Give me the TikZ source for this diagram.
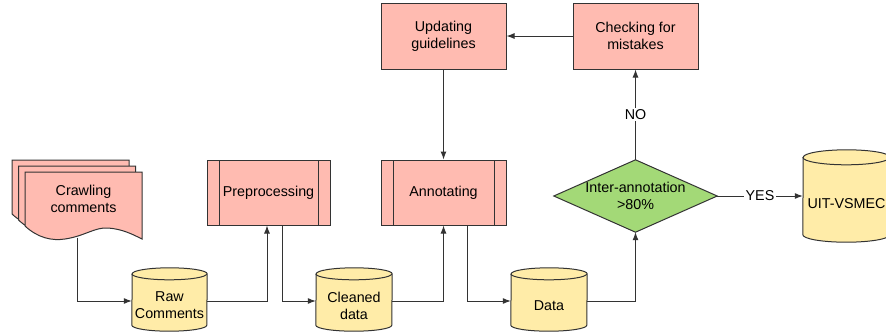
\documentclass[tikz,border=0pt]{standalone}
\usepackage{fontspec}
\setmainfont{Liberation Sans}
\usetikzlibrary{arrows.meta,backgrounds,calc}
\definecolor{pinkc}{HTML}{FFBBB1}
\definecolor{yelc}{HTML}{FFECA8}
\definecolor{grnc}{HTML}{A3D977}
\definecolor{linec}{HTML}{333333}
\newcommand\mycyl[3]{%
  \filldraw[cylshape] ([yshift=#3]#1.south west) arc[start angle=180,end angle=360,x radius=#2,y radius=#3]
    -- ([yshift=#3]#1.north east) arc[start angle=0,end angle=180,x radius=#2,y radius=#3] -- cycle;
  \draw[cylshape,fill=none] ([yshift=#3]#1.north west) arc[start angle=180,end angle=360,x radius=#2,y radius=#3];}
\begin{document}
\begin{tikzpicture}[x=1pt,y=-1pt,
  every node/.style={font=\fontsize{14.3}{17}\selectfont, text=black},
  procbox/.style={rectangle, draw=linec, line width=1pt, fill=pinkc, minimum width=125pt, minimum height=66pt, inner sep=0pt, align=center},
  subproc/.style={procbox, path picture={
      \draw[linec, line width=1pt] ([xshift=12pt]path picture bounding box.north west) -- ([xshift=12pt]path picture bounding box.south west);
      \draw[linec, line width=1pt] ([xshift=-12pt]path picture bounding box.north east) -- ([xshift=-12pt]path picture bounding box.south east);}},
  textbox/.style={rectangle, inner sep=0pt, align=center},
  cylshape/.style={draw=linec, line width=1pt, fill=yelc},
  docshape/.style={draw=linec, line width=1pt, fill=pinkc},
  arr/.style={draw=linec, line width=1pt, -{Latex[length=8pt,width=6pt]}},
  lbl/.style={fill=white, inner sep=1.5pt}]
\useasboundingbox (0,0) rectangle (886,333);

% nodes
\node[textbox, minimum width=117pt, minimum height=54pt] (crawl) at (83.5,199) {Crawling\\comments};
\node[subproc, minimum width=123pt, minimum height=65pt] (pre) at (268.5,192.5) {Preprocessing};
\node[subproc, minimum height=65pt] (ann) at (443.5,192.5) {Annotating};
\node[procbox] (upd) at (443.5,36) {Updating\\guidelines};
\node[procbox] (chk) at (635.5,36) {Checking for\\mistakes};
\node[textbox, minimum width=163pt, minimum height=72pt] (dec) at (635.5,196) {Inter-annotation\\>80\%};
\node[textbox, minimum width=75pt, minimum height=51pt] (raw) at (169.5,305.5) {Raw\\Comments};
\node[textbox, minimum width=76pt, minimum height=51pt] (cln) at (354,305.5) {Cleaned\\data};
\node[textbox, minimum width=76pt, minimum height=51pt] (dat) at (549,305.5) {Data};
\node[textbox, minimum width=87pt, minimum height=77pt] (uit) at (846.5,203.5) {UIT-VSMEC};
\coordinate (cw) at (77,237.5);

\begin{scope}[on background layer]
  \foreach \s in {13,6.5,0}{
    \filldraw[docshape, shift={(-\s,-\s*12/13)}] (25,172) -- (142,172) -- (142,239)
      .. controls (132,234) and (122,229) .. (108,228)
      .. controls (95,227) and (85,236) .. (65,239)
      .. controls (52,241) and (38,238) .. (25,226) -- cycle;
  }
  \mycyl{raw}{37.5pt}{6pt}
  \mycyl{cln}{38pt}{6pt}
  \mycyl{dat}{38pt}{6pt}
  \mycyl{uit}{43.5pt}{7.5pt}
  \filldraw[draw=linec, line width=1pt, fill=grnc] (dec.west) -- (dec.north) -- (dec.east) -- (dec.south) -- cycle;
\end{scope}

% connectors
\draw[arr] (cw) |- ([yshift=4.5pt]raw.west);
\draw[arr] ([yshift=4.5pt]raw.east) -| ([xshift=-1.5pt]pre.south);
\draw[arr] ([xshift=13.5pt]pre.south) |- ([yshift=4.5pt]cln.west);
\draw[arr] ([yshift=4.5pt]cln.east) -| (ann.south);
\draw[arr] ([xshift=23.5pt]ann.south) |- ([yshift=4.5pt]dat.west);
\draw[arr] ([yshift=4.5pt]dat.east) -| (dec.south);
\draw[arr] (dec.north) -- node[lbl] {NO} (chk.south);
\draw[arr] (dec.east) -- node[lbl] {YES} (dec.east -| uit.west);
\draw[arr] (chk.west) -- (upd.east);
\draw[arr] (upd.south) -- (ann.north);
\end{tikzpicture}
\end{document}
